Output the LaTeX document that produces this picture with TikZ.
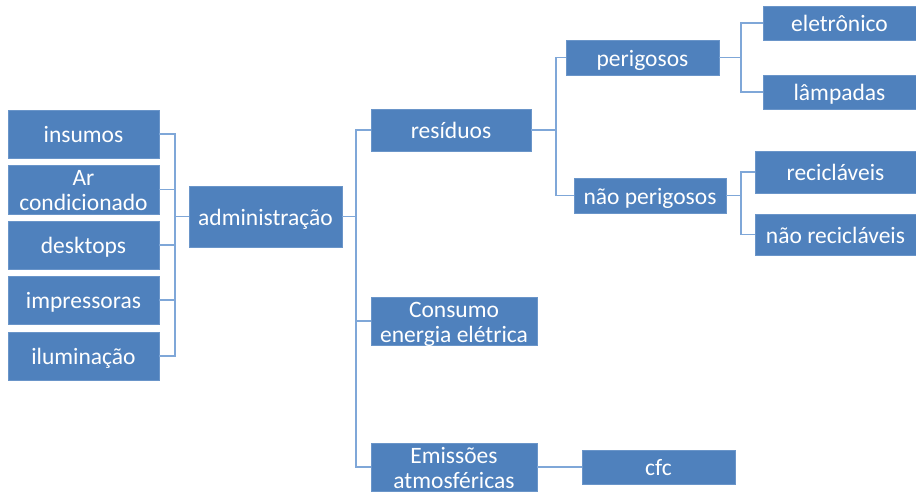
\documentclass[tikz,border=0pt]{standalone}
\usepackage{fontspec}
\setmainfont{Carlito}
\definecolor{boxblue}{HTML}{4F81BD}
\definecolor{boxedge}{HTML}{6A95C9}
\definecolor{linkblue}{HTML}{7FA7D8}
\begin{document}
\begin{tikzpicture}[x=1pt,y=-1pt,
  box/.style={draw=boxedge,line width=0.6pt,fill=boxblue,text=white,inner sep=0pt,
    align=center,font=\fontsize{23.5}{25}\selectfont,text height=20pt,text depth=3pt},
  twoline/.style={text height=45pt,text depth=3pt},
  link/.style={draw=linkblue,line width=1.5pt}]
\useasboundingbox (0,0) rectangle (916,491);
\begin{scope}
\clip (0,0) rectangle (916,491);
% left column of inputs
\node[box,minimum width=151pt,minimum height=48pt] (ins)  at (83.5,134)   {insumos};
\node[box,twoline,minimum width=151pt,minimum height=49pt] (ar) at (83.5,189.5) {Ar\\condicionado};
\node[box,minimum width=151pt,minimum height=48pt] (desk) at (83.5,245)   {desktops};
\node[box,minimum width=151pt,minimum height=48pt] (imp)  at (83.5,300)   {impressoras};
\node[box,minimum width=151pt,minimum height=48pt] (ilu)  at (83.5,356)   {iluminação};
% central node
\node[box,minimum width=153pt,minimum height=61pt] (adm) at (265.5,216.5) {administração};
% aspects
\node[box,minimum width=160pt,minimum height=42pt] (res) at (451,130) {resíduos};
\node[box,twoline,minimum width=166pt,minimum height=48pt] (con) at (454,321) {Consumo\\energia elétrica};
\node[box,twoline,minimum width=166pt,minimum height=48pt] (emi) at (454,467) {Emissões\\atmosféricas};
\node[box,minimum width=153pt,minimum height=34pt] (cfc) at (658.5,467) {cfc};
% waste classes
\node[box,minimum width=153pt,minimum height=35pt] (per)  at (642.5,57.5) {perigosos};
\node[box,minimum width=152pt,minimum height=35pt] (nper) at (650,195.5)  {não perigosos};
\node[box,minimum width=153pt,minimum height=34pt] (ele)  at (839.5,23)   {eletrônico};
\node[box,minimum width=153pt,minimum height=34pt] (lam)  at (839.5,92)   {lâmpadas};
\node[box,minimum width=161pt,minimum height=42pt] (rec)  at (835.5,172)  {recicláveis};
\node[box,minimum width=161pt,minimum height=41pt] (nrec) at (835.5,234.5){não recicláveis};
% bracket junctions
\coordinate (jl) at (175,216.5);
\coordinate (ja) at (356,216.5);
\coordinate (jr) at (556,130);
\coordinate (jp) at (741,57.5);
\coordinate (jn) at (741,195.5);
% connectors
\foreach \n in {ins,ar,desk,imp,ilu}
  \draw[link] (\n.east) -| (jl) -- (adm.west);
\foreach \n in {res,con,emi}
  \draw[link] (adm.east) -- (ja) |- (\n.west);
\foreach \n in {per,nper}
  \draw[link] (res.east) -- (jr) |- (\n.west);
\foreach \n in {ele,lam}
  \draw[link] (per.east) -- (jp) |- (\n.west);
\foreach \n in {rec,nrec}
  \draw[link] (nper.east) -- (jn) |- (\n.west);
\draw[link] (emi.east) -- (cfc.west);
\end{scope}
\end{tikzpicture}
\end{document}
